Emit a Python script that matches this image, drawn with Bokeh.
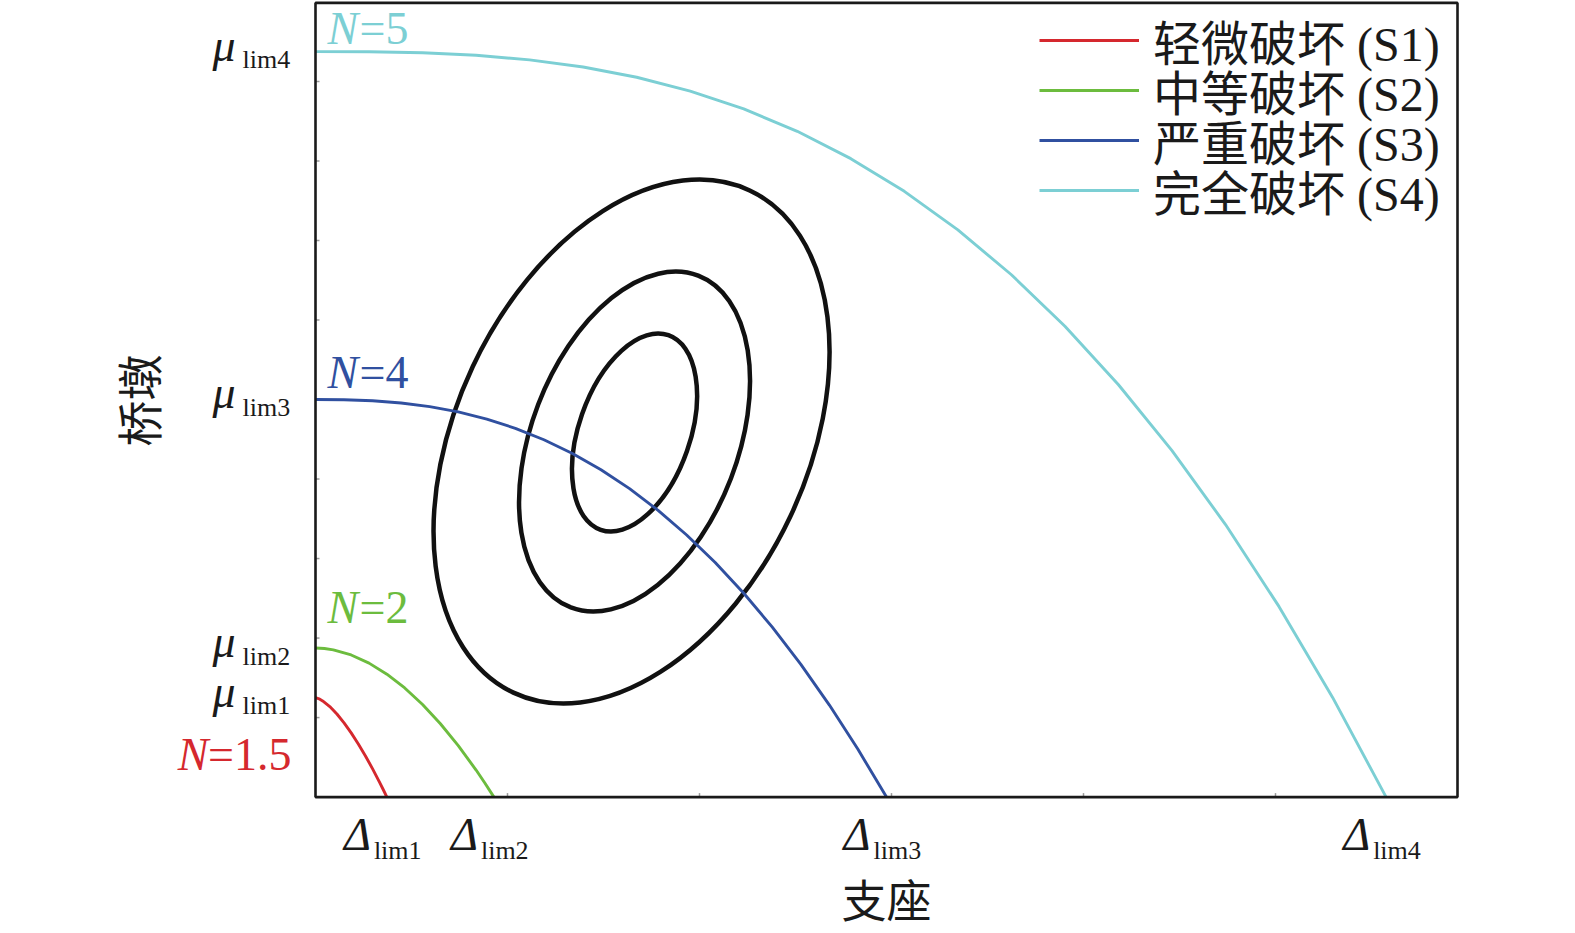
from bokeh.plotting import figure
from bokeh.models import Label, ColumnDataSource, Range1d, Legend, LegendItem
from bokeh.embed import file_html
from bokeh.resources import INLINE

# ---------------- data ----------------
delta_lim = [0.5, 1.25, 4.0, 7.5]          # bearing limits (x)
mu_lim = [1.0, 1.5, 4.0, 7.5]              # pier limits (y)
n_values = ["1.5", "2", "4", "5"]
state_names = ["轻微破坏 (S1)", "中等破坏 (S2)", "严重破坏 (S3)", "完全破坏 (S4)"]
tick_names = ["lim1", "lim2", "lim3", "lim4"]

s1_x = [0.0, 0.025, 0.05, 0.10, 0.15, 0.20, 0.25, 0.30, 0.35, 0.40, 0.45, 0.475, 0.5]
s1_y = [1.0, 0.989, 0.968, 0.911, 0.836, 0.747, 0.646, 0.535, 0.414, 0.284, 0.146, 0.074, 0.0]

s2_x = [0.0, 0.0625, 0.125, 0.25, 0.375, 0.5, 0.625, 0.75, 0.875, 1.0, 1.125, 1.1875, 1.25]
s2_y = [1.5, 1.495, 1.481, 1.43, 1.348, 1.237, 1.098, 0.932, 0.738, 0.518, 0.272, 0.139, 0.0]

s3_x = [0.0, 0.2, 0.4, 0.6, 0.8, 1.0, 1.2, 1.4, 1.6, 1.8, 2.0,
        2.2, 2.4, 2.6, 2.8, 3.0, 3.2, 3.4, 3.6, 3.8, 4.0]
s3_y = [4.0, 3.998, 3.987, 3.965, 3.928, 3.875, 3.803, 3.71, 3.595, 3.457, 3.293,
        3.103, 2.885, 2.637, 2.36, 2.051, 1.71, 1.336, 0.926, 0.481, 0.0]

s4_x = [0.0, 0.375, 0.75, 1.125, 1.5, 1.875, 2.25, 2.625, 3.0, 3.375, 3.75,
        4.125, 4.5, 4.875, 5.25, 5.625, 6.0, 6.375, 6.75, 7.125, 7.5]
s4_y = [7.5, 7.498, 7.488, 7.463, 7.417, 7.345, 7.242, 7.103, 6.923, 6.698, 6.423,
        6.094, 5.706, 5.255, 4.737, 4.148, 3.485, 2.742, 1.916, 1.003, 0.0]

# probability contours (outer, middle, inner)
contour_cx = [2.214, 2.235, 2.235]
contour_cy = [3.577, 3.577, 3.668]
contour_w = [3.888, 2.490, 1.443]
contour_h = [3.533, 2.078, 1.119]
contour_angle = [64.8, 69.0, 70.8]

x_minor = [1.345, 2.69, 4.035, 5.38, 6.725]
y_minor = [0.8, 1.6, 2.4, 3.2, 4.0, 4.8, 5.6, 6.4, 7.2]

axis_x_max = 8.0
axis_y_max = 7.99

colors = ["#d5282e", "#6cbc3e", "#3050a0", "#7ccfd4"]
curves_x = [s1_x, s2_x, s3_x, s4_x]
curves_y = [s1_y, s2_y, s3_y, s4_y]

SERIF = "'Liberation Serif', 'Times New Roman', serif"
CJK = "'Liberation Serif', 'Noto Sans CJK SC'"
TXT = "#1a1a1a"

W, H = 1572, 932
PX_X, PX_Y = 142.75, 99.4      # pixels per data unit
X0, Y0 = 315.0, 796.6          # pixel position of the origin

p = figure(width=W, height=H,
           x_range=Range1d(-X0 / PX_X, (W - X0) / PX_X),
           y_range=Range1d((Y0 - H) / PX_Y, Y0 / PX_Y),
           output_backend="svg", toolbar_location=None,
           x_axis_type=None, y_axis_type=None,
           min_border=0)
p.background_fill_color = "white"
p.border_fill_color = "white"
p.outline_line_color = None
p.grid.visible = False

# faint minor ticks
p.ray(x=[0.0] * len(y_minor), y=y_minor, length=4, angle=0, length_units="screen",
      line_color="#9a9a9a", line_width=1.5)
p.ray(x=x_minor, y=[0.0] * len(x_minor), length=4, angle=90, angle_units="deg",
      length_units="screen", line_color="#9a9a9a", line_width=1.5)

# contours
src = ColumnDataSource(dict(x=contour_cx, y=contour_cy, w=contour_w, h=contour_h, a=contour_angle))
p.ellipse(x="x", y="y", width="w", height="h", angle="a", angle_units="deg", source=src,
          fill_color=None, line_color="#111111", line_width=4.5)

# limit-state curves
rends = []
for cx, cy, col in zip(curves_x, curves_y, colors):
    rends.append(p.line(cx, cy, line_color=col, line_width=2.9))

# plot box
p.quad(left=[0.0], right=[axis_x_max], bottom=[0.0], top=[axis_y_max],
       fill_color=None, line_color="#1a1a1a", line_width=2.6)

# legend: one row per state
for i, (r, name) in enumerate(zip(rends, state_names)):
    yc = 41.2 + 50.2 * i
    leg = Legend(items=[LegendItem(label=name, renderers=[r])],
                 location=(1039, H - yc - 33.5),
                 padding=0, margin=0, spacing=0,
                 border_line_color=None, background_fill_alpha=0,
                 glyph_width=100, glyph_height=40, label_height=40,
                 label_standoff=14, label_text_font_size="48px",
                 label_text_font=CJK, label_text_color=TXT)
    p.add_layout(leg)

# baseline correction used by the text engine (fraction of font size)
BL = 0.337


def lab(x, y, text, dx, dy, size, col=TXT, italic=False, align="left", font=SERIF):
    p.add_layout(Label(x=x, y=y, text=text, x_offset=dx, y_offset=dy + BL * size,
                       text_align=align, text_baseline="alphabetic", text_font=font,
                       text_font_style="italic" if italic else "normal",
                       text_font_size=f"{size}px", text_color=col))


# N labels
n_dy = [None, 25, 11.5, 8]
for i, (m, nv, col) in enumerate(zip(mu_lim, n_values, colors)):
    if i == 0:
        lab(0, m, "N", -107, -72, 46, col, True, "right")
        lab(0, m, "=" + nv, -24, -72, 46, col, False, "right")
    else:
        lab(0, m, "N", 12, n_dy[i], 46, col, True)
        lab(0, m, "=" + nv, 44, n_dy[i], 46, col)

# mu tick labels
for m, tn in zip(mu_lim, tick_names):
    lab(0, m, "μ", -103, -9, 46, italic=True)
    lab(0, m, tn, -73, -17, 26)

# delta tick labels
for d, tn in zip(delta_lim, tick_names):
    lab(d, 0, "Δ", -43, -53.4, 46, italic=True)
    lab(d, 0, tn, -13, -62.4, 26)

# axis titles
p.add_layout(Label(x=886, y=H - 902, x_units="screen", y_units="screen", text="支座",
                   text_align="center", text_baseline="middle", text_font=CJK,
                   text_font_size="45px", text_color=TXT))
p.add_layout(Label(x=141, y=H - 400, x_units="screen", y_units="screen", text="桥墩",
                   angle=90, angle_units="deg",
                   text_align="center", text_baseline="middle", text_font=CJK,
                   text_font_size="46px", text_color=TXT))

open("out.html", "w").write(file_html(p, INLINE))
